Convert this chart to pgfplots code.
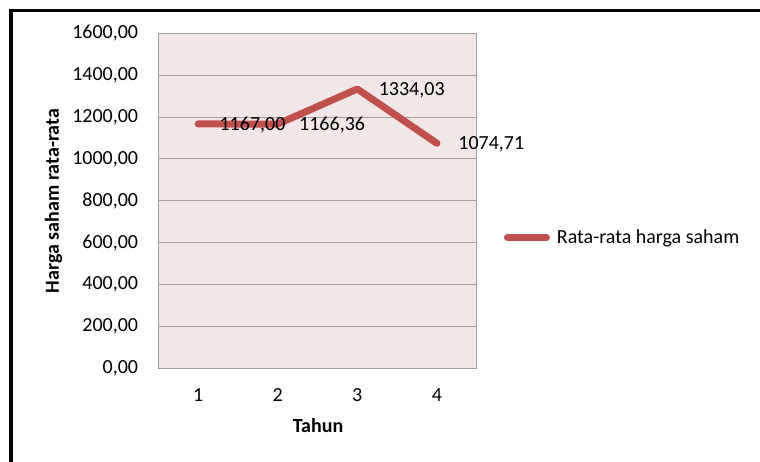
\documentclass[border=0pt]{standalone}
\usepackage{fontspec}
\setmainfont{Carlito}
\usepackage{pgfplots}
\pgfplotsset{compat=1.18}
\definecolor{linered}{RGB}{192,80,77}
\definecolor{plotbg}{RGB}{242,231,231}
\definecolor{gridc}{RGB}{160,160,160}
\begin{document}
\fontsize{20}{24}\selectfont
\begin{tikzpicture}
\useasboundingbox (0,0) rectangle (760pt,461pt);
\begin{scope}
\clip (0,0) rectangle (760pt,461pt);
\fill[white] (0,0) rectangle (760pt,461pt);
\draw[black, line width=3.5pt] (11pt,-50pt) -- (11pt,450.5pt) -- (800pt,450.5pt);
\begin{axis}[
  at={(158.3pt,92.7pt)}, anchor=south west,
  scale only axis, width=318.4pt, height=335pt,
  xmin=0.5, xmax=4.5, ymin=0, ymax=1600,
  xtick={1,2,3,4},
  ytick={0,200,400,600,800,1000,1200,1400,1600},
  major tick length=0pt,
  axis background/.style={fill=plotbg},
  axis line style={draw=gridc, line width=0.8pt},
  ymajorgrids, grid style={draw=gridc, line width=0.9pt},
  /pgf/number format/assume math mode=true,
  yticklabel style={font=\fontsize{20}{24}\selectfont, anchor=east, inner sep=0pt, xshift=-20pt,
    /pgf/number format/.cd, fixed, fixed zerofill, precision=2, use comma, 1000 sep={}},
  xticklabel style={font=\fontsize{20}{24}\selectfont, anchor=north, inner sep=0pt, yshift=-20pt},
  nodes near coords,
  every node near coord/.append style={font=\fontsize{20}{24}\selectfont, anchor=west, inner sep=0pt, xshift=18pt, yshift=-1pt, text=black,
    /pgf/number format/.cd, fixed, fixed zerofill, precision=2, use comma, 1000 sep={}},
  legend style={draw=none, fill=none, inner sep=0pt, outer sep=0pt,
    at={(axis description cs:1.0856,0.39)}, anchor=west,
    nodes={inner sep=0pt, font=\fontsize{20}{24}\selectfont}, column sep=7pt},
  legend image code/.code={\draw[#1] (0pt,0pt) -- (39pt,0pt);},
  clip=false,
]
\addplot[color=linered, line width=7pt, line cap=round, line join=round, mark=none]
  coordinates {(1,1167.00) (2,1166.36) (3,1334.03) (4,1074.71)};
\addlegendentry{Rata-rata harga saham}
\end{axis}
\node[rotate=90, font=\bfseries\fontsize{20}{24}\selectfont, inner sep=0pt] at (53.5pt,260pt) {Harga saham rata-rata};
\node[font=\bfseries\fontsize{20}{24}\selectfont, inner sep=0pt] at (318pt,35pt) {Tahun};
\end{scope}
\end{tikzpicture}
\end{document}
